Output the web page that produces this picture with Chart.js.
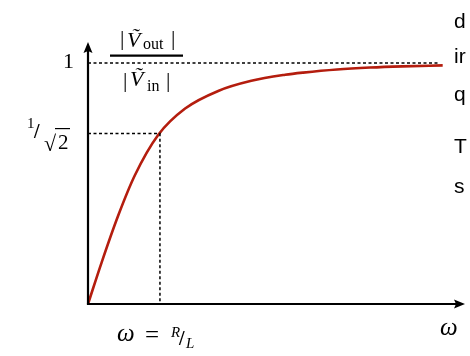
<!DOCTYPE html>
<html>
<head>
<meta charset="utf-8">
<style>
    html, body { margin: 0; padding: 0; background: #fff; overflow: hidden; }
    #wrap { position: relative; width: 470px; height: 356px; overflow: hidden; }
    #side { position: absolute; left: 454px; top: 0; font-family: "Liberation Sans", Arial, sans-serif;
            font-size: 21px; line-height: 24px; color: #000; white-space: nowrap; }
    #side span { position: absolute; left: 0; }
</style>
<script src="https://cdn.jsdelivr.net/npm/chart.js@4/dist/chart.umd.min.js"></script>
</head>
<body>
<div id="wrap">
    <canvas id="chart" width="470" height="356"></canvas>
    <div id="side">
        <span style="top:9px">d</span>
        <span style="top:44px">ir</span>
        <span style="top:82px">q</span>
        <span style="top:134px">T</span>
        <span style="top:174px">s</span>
    </div>
</div>
<script>
// ─── Data ──────────────────────────────────────────────────────
// omega in units of R/L, gain = |Vout| / |Vin|
const omegaRatio = [0, 0.19, 0.42, 0.65, 0.98, 1.35, 1.81, 2.27, 2.74, 2.99, 3.46, 3.92, 4.37, 4.93];
const gain       = [0, 0.173, 0.367, 0.533, 0.703, 0.811, 0.884, 0.926, 0.951, 0.960, 0.973, 0.981, 0.986, 0.990];

const unityGain = 1;
const unityEnd = 4.89;
const cornerOmega = 1;
const cornerGain = 0.707;

const xMax = 5.24;
const yMax = 1.087;

const SERIF = '"Liberation Serif", "Times New Roman", serif';
const CURVE = '#b41d0e';

function text(ctx, str, x, y, font) {
    ctx.font = font;
    ctx.fillText(str, x, y);
}

// Axes with arrow heads plus the hand-set math labels
const decorations = {
    id: 'decorations',
    afterDatasetsDraw(chart) {
        const { ctx, chartArea: a, scales: { x, y } } = chart;
        const x0 = x.getPixelForValue(0);
        const y0 = y.getPixelForValue(0);
        ctx.save();
        ctx.strokeStyle = '#000';
        ctx.fillStyle = '#000';
        ctx.lineWidth = 2.2;

        ctx.beginPath();
        ctx.moveTo(x0, y0 + 1);
        ctx.lineTo(x0, a.top + 8);
        ctx.moveTo(x0 - 1, y0);
        ctx.lineTo(a.right - 8, y0);
        ctx.stroke();

        ctx.beginPath();
        ctx.moveTo(x0, a.top);
        ctx.lineTo(x0 + 4.5, a.top + 11);
        ctx.lineTo(x0, a.top + 9);
        ctx.lineTo(x0 - 4.5, a.top + 11);
        ctx.closePath();
        ctx.fill();

        ctx.beginPath();
        ctx.moveTo(a.right, y0);
        ctx.lineTo(a.right - 11, y0 - 4.5);
        ctx.lineTo(a.right - 9, y0);
        ctx.lineTo(a.right - 11, y0 + 4.5);
        ctx.closePath();
        ctx.fill();

        ctx.textBaseline = 'alphabetic';
        ctx.textAlign = 'left';

        // y tick "1"
        const y1 = y.getPixelForValue(unityGain);
        ctx.textAlign = 'right';
        text(ctx, '1', 74, y1 + 5.5, '22px ' + SERIF);
        ctx.textAlign = 'left';

        // y tick "1/√2"
        const yc = y.getPixelForValue(cornerGain);
        text(ctx, '1', 27, yc - 6, '15px ' + SERIF);
        text(ctx, '/', 34, yc + 4, 'bold 20px ' + SERIF);
        text(ctx, '√', 44, yc + 17, '22px ' + SERIF);
        text(ctx, '2', 58, yc + 15, '21px ' + SERIF);
        ctx.lineWidth = 1.2;
        ctx.beginPath();
        ctx.moveTo(55, yc - 5);
        ctx.lineTo(70, yc - 5);
        ctx.stroke();

        // y title: |Ṽout| / |Ṽin|
        text(ctx, '|', 120, 45, '22px ' + SERIF);
        text(ctx, '\u1E7C', 127, 47, 'italic 22px ' + SERIF);
        text(ctx, 'out', 143, 49, '16px ' + SERIF);
        text(ctx, '|', 171, 45, '22px ' + SERIF);
        ctx.lineWidth = 2.2;
        ctx.beginPath();
        ctx.moveTo(110, 55.7);
        ctx.lineTo(183, 55.7);
        ctx.stroke();
        text(ctx, '|', 123, 87, '22px ' + SERIF);
        text(ctx, '\u1E7C', 130, 86, 'italic 22px ' + SERIF);
        text(ctx, 'in', 147, 91, '16px ' + SERIF);
        text(ctx, '|', 166, 87, '22px ' + SERIF);

        // x tick "ω = R/L"
        const xc = x.getPixelForValue(cornerOmega);
        text(ctx, 'ω', xc - 43, 341, 'italic 25px ' + SERIF);
        text(ctx, '=', xc - 15, 343, '25px ' + SERIF);
        text(ctx, 'R', xc + 11, 337, 'italic 15px ' + SERIF);
        text(ctx, '/', xc + 19, 345, 'bold 20px ' + SERIF);
        text(ctx, 'L', xc + 26, 348, 'italic 15px ' + SERIF);

        // x title
        text(ctx, 'ω', 440, 335, 'italic 25px ' + SERIF);
        ctx.restore();
    }
};

const dotted = { borderColor: '#000', borderWidth: 1.5, borderDash: [3, 2.5], pointRadius: 0, tension: 0, clip: false };

new Chart(document.getElementById('chart'), {
    type: 'line',
    data: {
        datasets: [
            {
                data: [{ x: 0, y: unityGain }, { x: unityEnd, y: unityGain }],
                ...dotted
            },
            {
                data: [{ x: 0, y: cornerGain }, { x: cornerOmega, y: cornerGain }, { x: cornerOmega, y: 0 }],
                ...dotted
            },
            {
                data: omegaRatio.map((w, i) => ({ x: w, y: gain[i] })),
                borderColor: CURVE,
                borderWidth: 2.6,
                pointRadius: 0,
                cubicInterpolationMode: 'monotone',
                clip: false
            }
        ]
    },
    options: {
        responsive: false,
        animation: false,
        layout: { padding: { left: 88, top: 42, right: 5, bottom: 52 } },
        plugins: { legend: { display: false }, tooltip: { enabled: false } },
        scales: {
            x: { type: 'linear', min: 0, max: xMax, display: false },
            y: { type: 'linear', min: 0, max: yMax, display: false }
        }
    },
    plugins: [decorations]
});
</script>
</body>
</html>
